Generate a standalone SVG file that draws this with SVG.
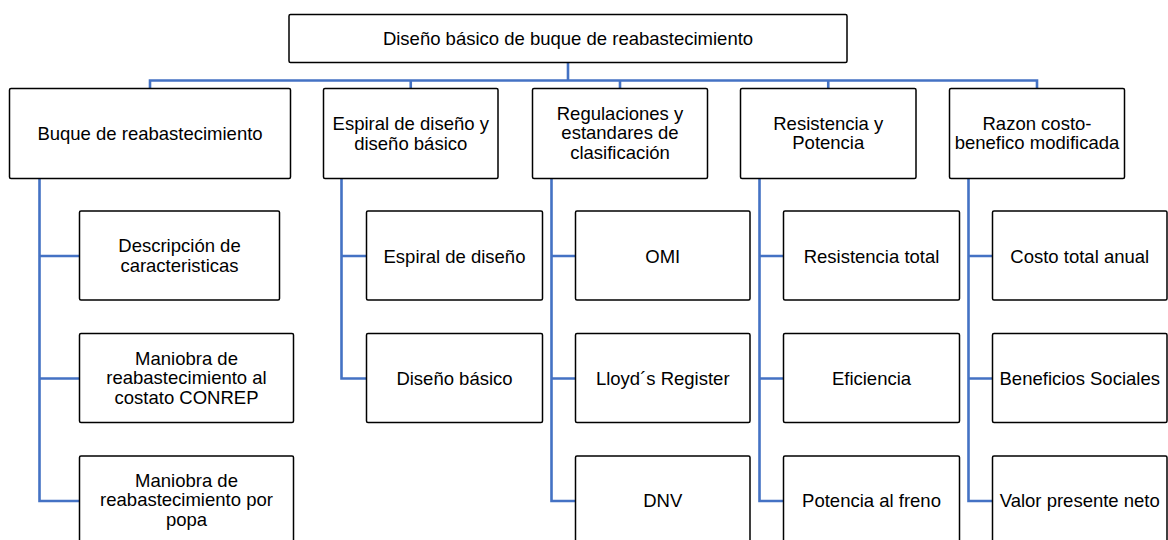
<svg xmlns="http://www.w3.org/2000/svg" width="1168" height="540" viewBox="0 0 1168 540">
<style>
.box{fill:#fff;stroke:#000;stroke-width:1.5}
.t{font-family:"Liberation Sans",Arial,sans-serif;font-size:18.5px;fill:#000;text-anchor:middle}
.c{fill:none;stroke:#4472C4;stroke-width:2.6}
</style>
<rect width="1168" height="540" fill="#fff"/>
<g id="connectors">
<path class="c" d="M568 62.5V80.5M150 88.5V80.5H1037V88.5M410.75 80.5V88.5M620 80.5V88.5M828.25 80.5V88.5"/>
<path class="c" d="M39.5 178.5V501H79.5M39.5 256H79.5M39.5 378.5H79.5"/>
<path class="c" d="M341.5 178.5V378.5H366.5M341.5 256H366.5"/>
<path class="c" d="M551.5 178.5V501H575.5M551.5 256H575.5M551.5 378.5H575.5"/>
<path class="c" d="M759.5 178.5V501H783.5M759.5 256H783.5M759.5 378.5H783.5"/>
<path class="c" d="M968.5 178.5V501H992.5M968.5 256H992.5M968.5 378.5H992.5"/>
</g>
<g id="root"><rect class="box" x="289" y="14.5" width="558" height="48" rx="1.5"/><text class="t" x="568" y="45">Diseño básico de buque de reabastecimiento</text></g>
<g id="n1"><rect class="box" x="9.5" y="88.5" width="281" height="90" rx="1.5"/><text class="t" x="150" y="140">Buque de reabastecimiento</text></g>
<g id="n2"><rect class="box" x="323.5" y="88.5" width="174.5" height="90" rx="1.5"/><text class="t" x="410.75" y="130">Espiral de diseño y</text><text class="t" x="410.75" y="149.5">diseño básico</text></g>
<g id="n3"><rect class="box" x="532.5" y="88.5" width="175" height="90" rx="1.5"/><text class="t" x="620" y="119.5">Regulaciones y</text><text class="t" x="620" y="139">estandares de</text><text class="t" x="620" y="158.5">clasificación</text></g>
<g id="n4"><rect class="box" x="740.5" y="88.5" width="175.5" height="90" rx="1.5"/><text class="t" x="828.25" y="129.5">Resistencia y</text><text class="t" x="828.25" y="149">Potencia</text></g>
<g id="n5"><rect class="box" x="949.5" y="88.5" width="175" height="90" rx="1.5"/><text class="t" x="1037" y="130">Razon costo-</text><text class="t" x="1037" y="149">benefico modificada</text></g>
<g id="n1a"><rect class="box" x="79.5" y="211" width="200" height="89" rx="1.5"/><text class="t" x="179.5" y="252">Descripción de</text><text class="t" x="179.5" y="271.5">caracteristicas</text></g>
<g id="n1b"><rect class="box" x="79.5" y="333.5" width="214" height="89" rx="1.5"/><text class="t" x="186.5" y="364.5">Maniobra de</text><text class="t" x="186.5" y="384">reabastecimiento al</text><text class="t" x="186.5" y="403.5">costato CONREP</text></g>
<g id="n1c"><rect class="box" x="79.5" y="456" width="214" height="89" rx="1.5"/><text class="t" x="186.5" y="487">Maniobra de</text><text class="t" x="186.5" y="506">reabastecimiento por</text><text class="t" x="186.5" y="525.5">popa</text></g>
<g id="n2a"><rect class="box" x="366.5" y="211" width="176" height="89" rx="1.5"/><text class="t" x="454.5" y="262.5">Espiral de diseño</text></g>
<g id="n2b"><rect class="box" x="366.5" y="333.5" width="176" height="89" rx="1.5"/><text class="t" x="454.5" y="384.5">Diseño básico</text></g>
<g id="n3a"><rect class="box" x="575.5" y="211" width="174.5" height="89" rx="1.5"/><text class="t" x="662.75" y="262.5">OMI</text></g>
<g id="n3b"><rect class="box" x="575.5" y="333.5" width="174.5" height="89" rx="1.5"/><text class="t" x="662.75" y="384.5">Lloyd´s Register</text></g>
<g id="n3c"><rect class="box" x="575.5" y="456" width="174.5" height="89" rx="1.5"/><text class="t" x="662.75" y="507">DNV</text></g>
<g id="n4a"><rect class="box" x="783.5" y="211" width="176" height="89" rx="1.5"/><text class="t" x="871.5" y="262.5">Resistencia total</text></g>
<g id="n4b"><rect class="box" x="783.5" y="333.5" width="176" height="89" rx="1.5"/><text class="t" x="871.5" y="384.5">Eficiencia</text></g>
<g id="n4c"><rect class="box" x="783.5" y="456" width="176" height="89" rx="1.5"/><text class="t" x="871.5" y="507">Potencia al freno</text></g>
<g id="n5a"><rect class="box" x="992.5" y="211" width="174.5" height="89" rx="1.5"/><text class="t" x="1079.75" y="262.5">Costo total anual</text></g>
<g id="n5b"><rect class="box" x="992.5" y="333.5" width="174.5" height="89" rx="1.5"/><text class="t" x="1079.75" y="384.5">Beneficios Sociales</text></g>
<g id="n5c"><rect class="box" x="992.5" y="456" width="174.5" height="89" rx="1.5"/><text class="t" x="1079.75" y="507">Valor presente neto</text></g>
</svg>
